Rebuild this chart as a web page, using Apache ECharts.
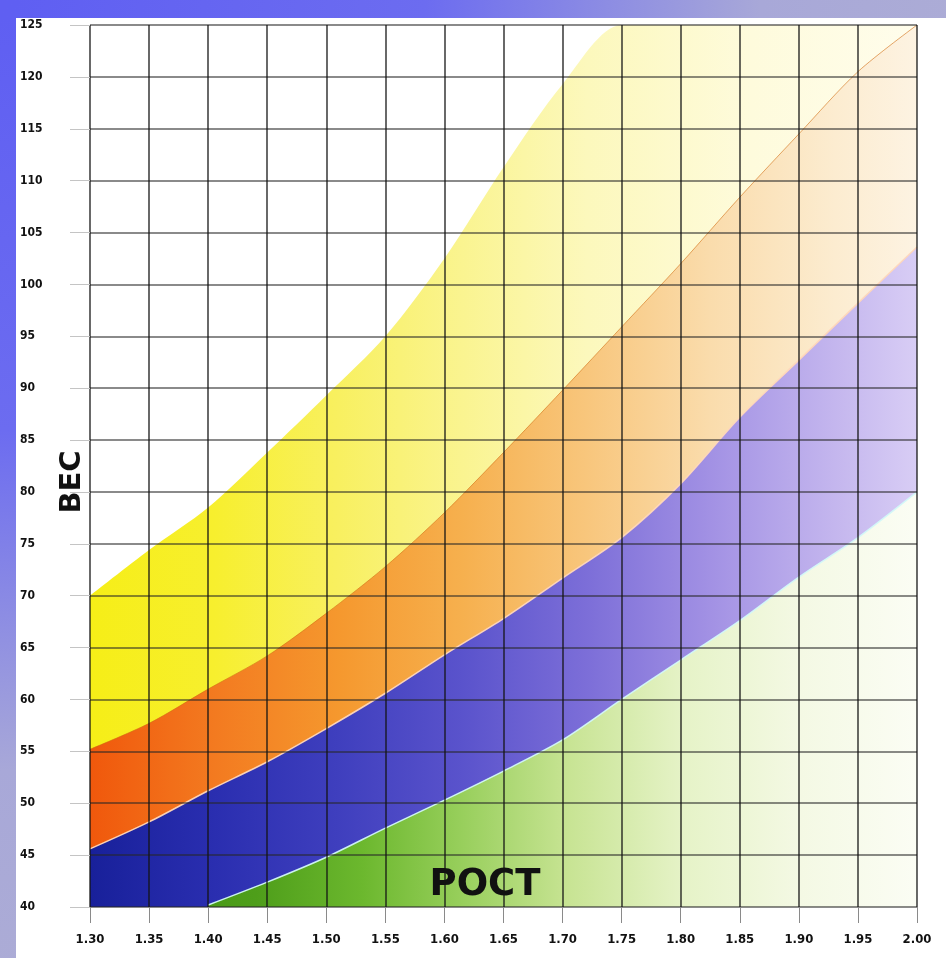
<!DOCTYPE html>
<html>
<head>
<meta charset="utf-8">
<title>ВЕС / РОСТ</title>
<script src="https://cdn.jsdelivr.net/npm/echarts@6/dist/echarts.min.js"></script>
<style>
	html, body { margin: 0; padding: 0; }
	#main {
		width: 946px;
		height: 958px;
		box-sizing: border-box;
		background: #fff;
		border-style: solid;
		border-width: 18px 0 0 16px;
		border-image: linear-gradient(to bottom right, #5f5ff2 0%, #6c6cf0 22%, #a8a8d8 40%, #bdbdcc 100%) 1;
	}
</style>
</head>
<body>
<div id="main"></div>
<script>
// рост (м) — точки по оси X
var heights = [1.30, 1.35, 1.40, 1.45, 1.50, 1.55, 1.60, 1.65, 1.70, 1.75, 1.80, 1.85, 1.90, 1.95, 2.00];
// верхние границы полос (кг)
var yellowTop = [70, 74.4, 78.5, 83.8, 89.3, 95, 102.5, 111.3, 119.3, 125, 125, 125, 125, 125, 125];
var orangeTop = [55.2, 57.7, 61, 64.2, 68.3, 72.8, 78, 83.8, 89.8, 95.9, 102, 108.4, 114.5, 120.5, 125];
var blueTop = [45.6, 48.2, 51.2, 54, 57.2, 60.6, 64.3, 67.8, 71.7, 75.6, 80.8, 87.2, 92.7, 98.2, 103.6];
var greenTop = [null, null, 40.2, 42.4, 44.8, 47.6, 50.3, 53.1, 56.1, 60, 63.8, 67.6, 71.8, 75.6, 80];
// подписи осей
var weightTicks = [40, 45, 50, 55, 60, 65, 70, 75, 80, 85, 90, 95, 100, 105, 110, 115, 120, 125];

var font = "'DejaVu Sans Condensed', 'Liberation Sans Narrow', 'DejaVu Sans', sans-serif";
var plotL = 74, plotR = 901;

function pairs(arr) {
	var out = [];
	for (var i = 0; i < heights.length; i++) {
		if (arr[i] != null) out.push([heights[i], arr[i]]);
	}
	return out;
}

//горизонтальный градиент полосы
function grad(stops) {
	return new echarts.graphic.LinearGradient(plotL, 0, plotR, 0, stops.map(function(s) {
		return { offset: s[0], color: s[1] };
	}), true);
}

function band(name, arr, z, stops, line) {
	return {
		name: name,
		type: 'line',
		data: pairs(arr),
		smooth: 0.3,
		symbol: 'none',
		z: z,
		lineStyle: line,
		areaStyle: { origin: 'start', color: grad(stops), opacity: 1 },
		silent: true
	};
}

var chart = echarts.init(document.getElementById('main'));
var option = {
	animation: false,
	backgroundColor: '#fff',
	grid: { left: plotL, right: 930 - plotR, top: 7, bottom: 51 },
	xAxis: {
		type: 'value',
		min: 1.30,
		max: 2.00,
		interval: 0.05,
		z: 10,
		axisLine: { show: false },
		axisTick: { show: true, length: 16, lineStyle: { color: '#8a8a8a', width: 1 } },
		axisLabel: {
			margin: 26,
			color: '#111',
			fontFamily: font,
			fontWeight: 'bold',
			fontSize: 13,
			formatter: function(v) { return v.toFixed(2); }
		},
		splitLine: { show: true, lineStyle: { color: 'rgba(20,20,20,0.8)', width: 1.6 } }
	},
	yAxis: {
		type: 'value',
		min: weightTicks[0],
		max: weightTicks[weightTicks.length - 1],
		interval: 5,
		z: 10,
		axisLine: { show: false },
		axisTick: { show: true, length: 20, lineStyle: { color: '#c4c4c4', width: 1 } },
		axisLabel: {
			margin: 70,
			align: 'left',
			color: '#111',
			fontFamily: font,
			fontWeight: 'bold',
			fontSize: 12
		},
		splitLine: { show: true, lineStyle: { color: 'rgba(40,40,40,0.72)', width: 1.6 } }
	},
	series: [
		band('yellow', yellowTop, 2, [
			[0, '#f6ee17'], [0.15, '#f7ef2e'], [0.3, '#f8f060'], [0.45, '#faf490'],
			[0.6, '#fcf8bc'], [0.8, '#fefbdc'], [1, '#fffdec']
		], { width: 0 }),
		band('orange', orangeTop, 3, [
			[0, '#f0580c'], [0.15, '#f37a20'], [0.3, '#f5982e'], [0.45, '#f6b04e'],
			[0.6, '#f8c67c'], [0.75, '#fadcac'], [0.9, '#fcecd0'], [1, '#fdf3e2']
		], { width: 1, color: 'rgba(210,110,20,0.6)' }),
		band('blue', blueTop, 4, [
			[0, '#18209a'], [0.15, '#2a2eb0'], [0.3, '#3f3fbe'], [0.45, '#5a53cc'],
			[0.6, '#7c6ed8'], [0.75, '#a291e4'], [0.9, '#c4b6ee'], [1, '#d8cdf5']
		], { width: 1.5, color: 'rgba(255,215,185,0.95)' }),
		band('green', greenTop, 5, [
			[0, '#3e9010'], [0.2, '#4e9e1a'], [0.33, '#6cb82e'], [0.45, '#98cf5c'],
			[0.58, '#c8e494'], [0.72, '#e6f3c8'], [0.86, '#f4f9e4'], [1, '#fbfdf4']
		], { width: 1.5, color: 'rgba(210,248,248,0.95)' })
	],
	graphic: [{
		type: 'text',
		x: 56,
		y: 464,
		rotation: Math.PI / 2,
		z: 20,
		style: {
			text: 'ВЕС',
			fill: '#111',
			font: "bold 29px 'DejaVu Sans', sans-serif",
			textAlign: 'center',
			textVerticalAlign: 'middle'
		}
	}, {
		type: 'text',
		x: 469,
		y: 867,
		z: 20,
		style: {
			text: 'РОСТ',
			fill: '#111',
			font: "bold 37px 'DejaVu Sans', sans-serif",
			textAlign: 'center',
			textVerticalAlign: 'middle'
		}
	}]
};
chart.setOption(option);
</script>
</body>
</html>
